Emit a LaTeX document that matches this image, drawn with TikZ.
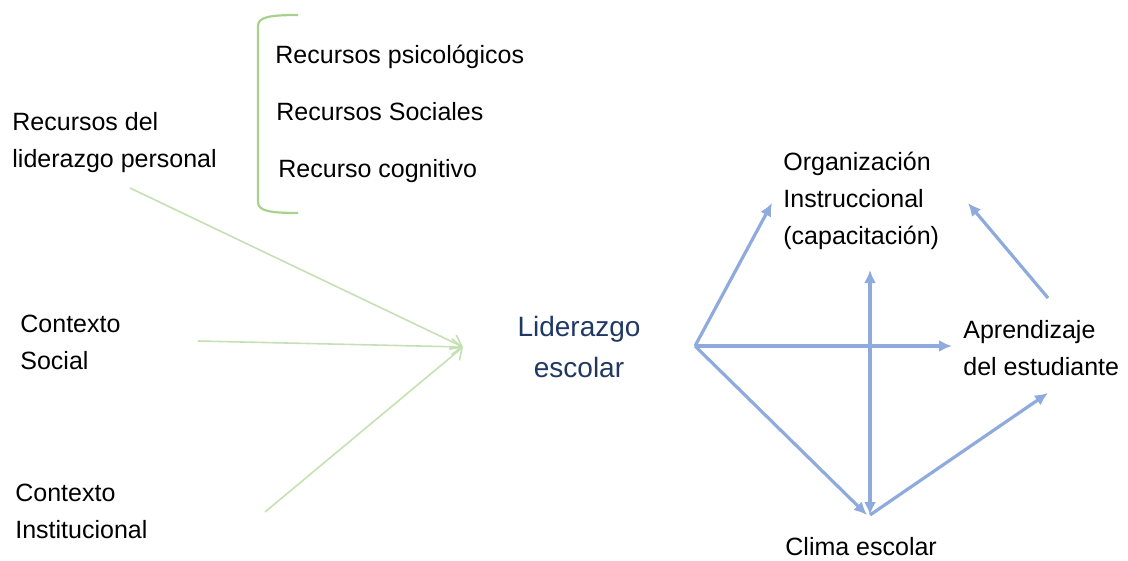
\documentclass[tikz,border=0pt]{standalone}
\usepackage{fontspec}
\setmainfont{Liberation Sans}
\usetikzlibrary{arrows.meta}
\definecolor{bluearr}{HTML}{8FAADC}
\definecolor{greenarr}{HTML}{C5E0B4}
\definecolor{greenbr}{HTML}{A9D18E}
\definecolor{navy}{HTML}{203864}
\tikzset{
  lbl/.style={inner sep=0pt, anchor=west, align=left, font=\fontsize{12.5}{18.5}\selectfont},
  hub/.style={inner sep=0pt, align=center, text=navy, font=\fontsize{14}{20.5}\selectfont},
  garr/.style={draw=greenarr, line width=0.8pt, -{Straight Barb[length=5pt,width=8pt,line width=0.8pt]}},
  barr/.style={draw=bluearr, line width=1.6pt, -{Latex[length=6.5pt,width=6pt]}},
  bbarr/.style={draw=bluearr, line width=1.6pt, {Latex[length=6.5pt,width=6pt]}-{Latex[length=6.5pt,width=6pt]}},
  bracketline/.style={draw=greenbr, line width=1.1pt}
}
\begin{document}
\begin{tikzpicture}[x=0.5pt,y=-0.5pt]
\useasboundingbox (0,0) rectangle (1128,561);
% left texts
\node[lbl] (rdl) at (12,143) {Recursos del\\liderazgo personal};
\node[lbl] (cs) at (20,342) {Contexto\\Social};
\node[lbl] (ci) at (15,511) {Contexto\\Institucional};
% resources list
\node[lbl] (rp) at (275,57) {Recursos psicológicos};
\node[lbl] (rs) at (276,112) {Recursos Sociales};
\node[lbl] (rc) at (278,171) {Recurso cognitivo};
% bracket
\draw[bracketline] (298,15) .. controls (270,15) and (258,17) .. (258,26) -- (258,202) .. controls (258,211) and (270,213) .. (298,213);
% hub
\node[hub] (lid) at (579,347) {Liderazgo\\escolar};
% right texts
\node[lbl] (org) at (783,201) {Organización\\Instruccional\\(capacitación)};
\node[lbl] (apr) at (963,348) {Aprendizaje\\del estudiante};
\node[lbl] (cli) at (785,547) {Clima escolar};
% coordinates
\coordinate (g1) at (130,188);
\coordinate (g2) at (198,341);
\coordinate (g3) at (265,512);
\coordinate (gin) at (463,347);
\coordinate (hubout) at (695,346);
\coordinate (orgin) at (772,203);
\coordinate (orgin2) at (968,203);
\coordinate (orgbot) at (870,270);
\coordinate (aprin) at (952,346);
\coordinate (aprout) at (1048,298);
\coordinate (aprin2) at (1048,393);
\coordinate (cliin) at (867,515);
\coordinate (clibot) at (870,515);
% green arrows
\draw[garr] (g1) -- (gin);
\draw[garr] (g2) -- (gin);
\draw[garr] (g3) -- (gin);
% blue arrows
\draw[barr] (hubout) -- (orgin);
\draw[barr] (hubout) -- (aprin);
\draw[barr] (hubout) -- (cliin);
\draw[bbarr] (clibot) -- (orgbot);
\draw[barr] (clibot) -- (aprin2);
\draw[barr] (aprout) -- (orgin2);
\end{tikzpicture}
\end{document}
